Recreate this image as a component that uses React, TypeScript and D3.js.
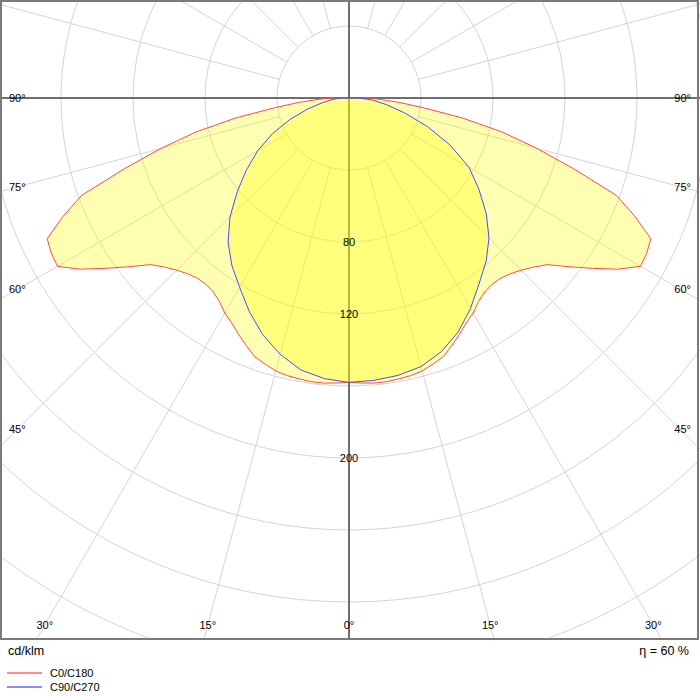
import React from "react";
import * as d3 from "d3";

// Angles (deg from nadir) for the measured planes
const angles = [0, 2.5, 5, 7.5, 10, 12.5, 15, 17.5, 20, 22.5, 25, 27.5, 30, 32.5, 35, 37.5, 40, 42.5, 45, 47.5, 50, 52.5, 55, 57.5, 60, 62.5, 65, 67.5, 70, 72.5, 75, 77.5, 80, 82.5, 85, 87.5, 90];
// C0/C180 plane (cd/klm) – right side C0, left side C180
const c0 = [158, 158.5, 159, 159, 158.5, 158, 157, 155, 153, 149, 145, 141, 138, 134, 131.5, 130.5, 130.8, 132.5, 135.3, 139, 144, 154, 165, 177, 187, 186.5, 185, 172, 158, 131, 108, 87, 64, 42, 28, 17, 10];
const c180 = [158, 158.5, 159, 159, 158.5, 158, 157, 155, 153, 149, 145, 141, 138, 134, 131.5, 130.5, 130.8, 132.5, 135.3, 139, 144, 154, 165, 177, 187, 186.5, 185, 172, 158, 131, 108, 87, 64, 42, 28, 17, 10];
// C90/C270 plane
const anglesB = [0, 5, 10, 15, 20, 25, 30, 35, 40, 45, 50, 55, 60, 65, 70, 75, 80, 85, 90];
const c90 = [158, 157.5, 156.5, 154.5, 150, 143.5, 135, 126, 118.5, 110, 99.5, 88, 77, 62, 46.5, 32, 21, 13, 6];
const c270 = [158, 156.5, 153.5, 147.5, 140, 131, 121.5, 113.5, 104.5, 93.5, 81, 69.5, 58.5, 47, 35, 24, 15, 9, 5];

const circleValues = [40, 80, 120, 160, 200, 240, 280, 320, 360];
const circleLabels = [80, 120, 200];
const rayAngles = [15, 30, 45, 60, 75, 90, 105, 120, 135, 150, 165];
const bottomLabels = [
  { ang: -30, text: "30°" },
  { ang: -15, text: "15°" },
  { ang: 0, text: "0°" },
  { ang: 15, text: "15°" },
  { ang: 30, text: "30°" },
];
const sideLabels = [
  { ang: 90, text: "90°" },
  { ang: 75, text: "75°" },
  { ang: 60, text: "60°" },
  { ang: 45, text: "45°" },
];
const legendItems = [
  { name: "C0/C180", color: "#ff8c8c" },
  { name: "C90/C270", color: "#8c8cff" },
];

export default function App() {
  const W = 700;
  const H = 700;
  const cx = 349;
  const cy = 98;
  const frameBottom = 639;
  const r = d3.scaleLinear().domain([0, 40]).range([0, 72]);
  const toRad = (d: number) => (d * Math.PI) / 180;

  const buildPath = (angs: number[], left: number[], right: number[]) => {
    const pts: [number, number][] = [];
    for (let i = angs.length - 1; i >= 0; i--) pts.push([Math.PI + toRad(angs[i]), r(left[i])]);
    for (let i = 1; i < angs.length; i++) pts.push([Math.PI - toRad(angs[i]), r(right[i])]);
    pts.push([0, 0]);
    const line = d3.lineRadial<[number, number]>().angle((d) => d[0]).radius((d) => d[1]).curve(d3.curveLinearClosed);
    return line(pts) || "";
  };

  const redPath = buildPath(angles, c180, c0);
  const bluePath = buildPath(anglesB, c270, c90);

  const font = "'Liberation Sans', Arial, sans-serif";
  const rMin = r(40);
  const rMax = 900;

  return (
    <svg width={W} height={H} style={{ position: "absolute", left: 0, top: 0, background: "#fff" }} fontFamily={font}>
      <defs>
        <clipPath id="plotClip">
          <rect x={0} y={0} width={700} height={frameBottom} />
        </clipPath>
      </defs>
      <g clipPath="url(#plotClip)">
        {circleValues.map((v) => (
          <circle key={v} cx={cx} cy={cy} r={r(v)} fill="none" stroke="#d4d4d4" strokeWidth={1} />
        ))}
        {rayAngles.map((a) =>
          [1, -1].map((s) => (
            <line
              key={`${a}-${s}`}
              x1={cx + s * rMin * Math.sin(toRad(a))}
              y1={cy + rMin * Math.cos(toRad(a))}
              x2={cx + s * rMax * Math.sin(toRad(a))}
              y2={cy + rMax * Math.cos(toRad(a))}
              stroke="#d4d4d4"
              strokeWidth={1}
            />
          ))
        )}
        <line x1={0} y1={cy} x2={W} y2={cy} stroke="#6e6e6e" strokeWidth={2} />
        <line x1={cx} y1={0} x2={cx} y2={frameBottom} stroke="#6e6e6e" strokeWidth={2} />
        <g transform={`translate(${cx},${cy})`}>
          <path d={redPath} fill="#ffff00" fillOpacity={0.3} stroke="none" />
          <path d={bluePath} fill="#ffff00" fillOpacity={0.3} stroke="none" />
          <path d={redPath} fill="none" stroke="#ff4a4a" strokeWidth={1} />
          <path d={bluePath} fill="none" stroke="#4a4aff" strokeWidth={1} />
        </g>
        {circleLabels.map((v) => (
          <text key={v} x={cx} y={cy + r(v) + 4} textAnchor="middle" fontSize={11} fill="#000">
            {v}
          </text>
        ))}
        {bottomLabels.map((l) => (
          <text
            key={l.ang}
            x={cx + Math.tan(toRad(l.ang)) * (625 - cy)}
            y={629}
            textAnchor="middle"
            fontSize={11}
            fill="#000"
          >
            {l.text}
          </text>
        ))}
        {sideLabels.map((l) => (
          <g key={l.ang}>
            <text x={9} y={cy + (cx - 18) / Math.tan(toRad(l.ang)) + 4} fontSize={11} fill="#000">
              {l.text}
            </text>
            <text x={691} y={cy + (cx - 18) / Math.tan(toRad(l.ang)) + 4} textAnchor="end" fontSize={11} fill="#000">
              {l.text}
            </text>
          </g>
        ))}
      </g>
      <rect x={1} y={1} width={697} height={frameBottom - 1} fill="none" stroke="#7a7a7a" strokeWidth={2} />
      <text x={8} y={655} fontSize={12.5} fill="#000">
        cd/klm
      </text>
      <text x={689} y={655} textAnchor="end" fontSize={12.5} fill="#000">
        η = 60 %
      </text>
      {legendItems.map((it, i) => (
        <g key={it.name}>
          <line x1={7} x2={42} y1={673 + i * 14} y2={673 + i * 14} stroke={it.color} strokeWidth={2} />
          <text x={50} y={677 + i * 14} fontSize={11} fill="#000">
            {it.name}
          </text>
        </g>
      ))}
    </svg>
  );
}
